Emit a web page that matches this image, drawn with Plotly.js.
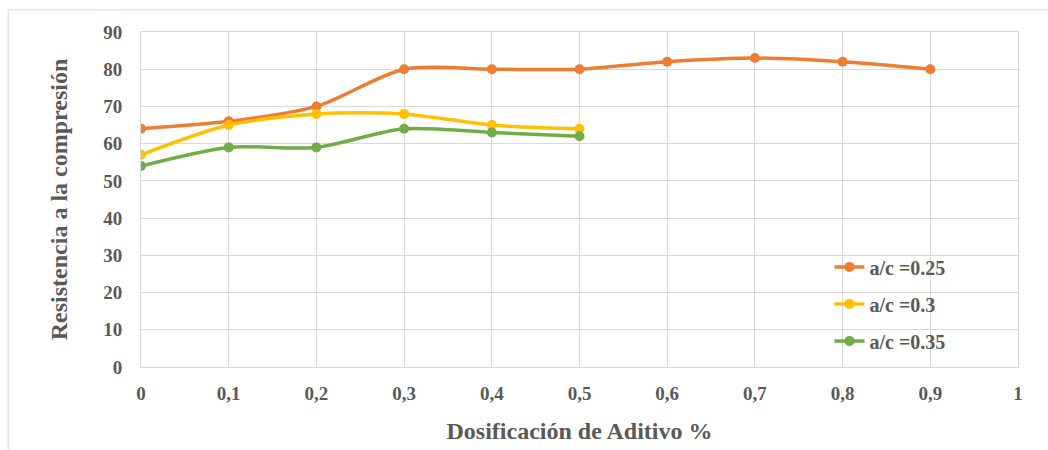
<!DOCTYPE html>
<html><head><meta charset="utf-8">
<script src="https://cdn.plot.ly/plotly-3.0.1.min.js"></script>
<style>html,body{margin:0;padding:0;background:#fff}#chart{width:1048px;height:450px}</style>
</head><body><div id="chart"></div>
<script>
const xA = [0, 0.1, 0.2, 0.3, 0.4, 0.5, 0.6, 0.7, 0.8, 0.9];
const yA = [64, 66, 70, 80, 80, 80, 82, 83, 82, 80];
const xB = [0, 0.1, 0.2, 0.3, 0.4, 0.5];
const yB = [57, 65, 68, 68, 65, 64];
const xC = [0, 0.1, 0.2, 0.3, 0.4, 0.5];
const yC = [54, 59, 59, 64, 63, 62];
const names = ['a/c =0.25', 'a/c =0.3', 'a/c =0.35'];
const xTickVals = [0, 0.1, 0.2, 0.3, 0.4, 0.5, 0.6, 0.7, 0.8, 0.9, 1];
const xTickText = ['0', '0,1', '0,2', '0,3', '0,4', '0,5', '0,6', '0,7', '0,8', '0,9', '1'];
const colors = ['#ED7D31', '#FFC000', '#70AD47'];

const font = 'Liberation Serif, Times New Roman, serif';
const mk = (x, y, i) => ({
  x: x, y: y, name: names[i], legendgroup: 'g' + i, type: 'scatter', mode: 'lines+markers',
  line: {color: colors[i], width: 3.5, shape: 'spline', smoothing: 0.8},
  marker: {color: colors[i], size: 10}
});
const data = [mk(xA, yA, 0), mk(xB, yB, 1), mk(xC, yC, 2)];
const layout = {
  width: 1048, height: 450,
  margin: {l: 141, r: 30, t: 32, b: 83},
  paper_bgcolor: '#fff', plot_bgcolor: '#fff',
  showlegend: true,
  legend: {x: 0.785, y: 0.357, xanchor: 'left', yanchor: 'top', bgcolor: 'rgba(0,0,0,0)',
    traceorder: 'grouped', tracegroupgap: 8,
    font: {family: font, size: 20, color: '#595959', weight: 'bold'}},
  xaxis: {range: [0, 1], tickvals: xTickVals, ticktext: xTickText, showgrid: true, gridcolor: '#d9d9d9',
    zeroline: false, showline: true, linecolor: '#d9d9d9', mirror: true, ticks: '', ticklabelstandoff: 9,
    tickfont: {family: font, size: 19, color: '#595959', weight: 'bold'},
    title: {text: 'Dosificación de Aditivo %', font: {family: font, size: 24, color: '#595959', weight: 'bold'}, standoff: 19}},
  yaxis: {range: [0, 90], dtick: 10, showgrid: true, gridcolor: '#d9d9d9', zeroline: false,
    showline: true, linecolor: '#d9d9d9', mirror: true, ticks: '', ticklabelstandoff: 14,
    tickfont: {family: font, size: 19, color: '#595959', weight: 'bold'},
    title: {text: 'Resistencia a la compresión', font: {family: font, size: 24, color: '#595959', weight: 'bold'}, standoff: 28}},
  shapes: [
    {type: 'line', xref: 'paper', yref: 'paper', x0: -0.1515, x1: 1.04, y0: 1.066, y1: 1.066, line: {color: '#d9d9d9', width: 1}},
    {type: 'line', xref: 'paper', yref: 'paper', x0: -0.1515, x1: -0.1515, y0: 1.066, y1: -0.26, line: {color: '#d9d9d9', width: 1}}
  ]
};
Plotly.newPlot('chart', data, layout, {displayModeBar: false});
</script></body></html>
